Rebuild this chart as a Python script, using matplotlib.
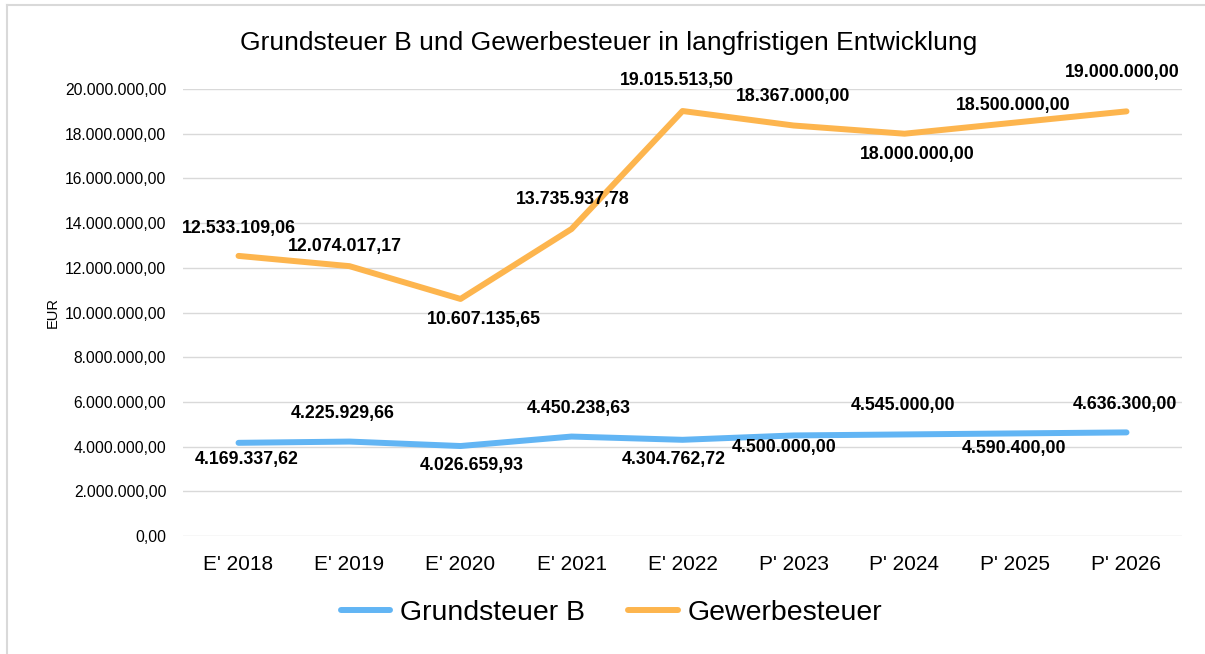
import matplotlib
matplotlib.use("Agg")
import matplotlib.pyplot as plt
from matplotlib.ticker import FuncFormatter, MultipleLocator
from matplotlib.lines import Line2D

plt.rcParams['font.family'] = ['Liberation Sans', 'DejaVu Sans']

# data
years = ["E' 2018", "E' 2019", "E' 2020", "E' 2021", "E' 2022",
         "P' 2023", "P' 2024", "P' 2025", "P' 2026"]
grundsteuer = [4169337.62, 4225929.66, 4026659.93, 4450238.63, 4304762.72,
               4500000.00, 4545000.00, 4590400.00, 4636300.00]
gewerbe = [12533109.06, 12074017.17, 10607135.65, 13735937.78, 19015513.50,
           18367000.00, 18000000.00, 18500000.00, 19000000.00]

# label offsets (points)
gr_off = [(6, -12), (-5, 20), (8, -14), (5, 20), (-6, -14), (-6.5, -9), (-1, 21), (-1, -11), (-1, 20)]
gw_off = [(0, 20), (-3, 14), (17, -15), (1, 21), (-4, 22), (0, 21), (9, -15), (-2, 12), (-3, 28)]

blue = '#62B5F4'
orange = '#FDB54E'


def de_fmt(v, pos=None):
    s = f"{v:,.2f}"
    return s.replace(",", "X").replace(".", ",").replace("X", ".")


fig = plt.figure(figsize=(12.05, 6.54), dpi=100)
ax = fig.add_axes([0.1519, 0.1804, 0.8290, 0.6835])

x = range(len(years))
ax.plot(x, grundsteuer, color=blue, lw=4.3, solid_capstyle='round', label='Grundsteuer B')
ax.plot(x, gewerbe, color=orange, lw=4.3, solid_capstyle='round', label='Gewerbesteuer')

for i, v in enumerate(grundsteuer):
    ax.annotate(de_fmt(v), (i, v), xytext=gr_off[i], textcoords='offset points',
                ha='center', va='center', fontsize=12.8, fontweight='bold')
for i, v in enumerate(gewerbe):
    ax.annotate(de_fmt(v), (i, v), xytext=gw_off[i], textcoords='offset points',
                ha='center', va='center', fontsize=12.8, fontweight='bold')

ax.set_xlim(-0.5, len(years) - 0.5)
ax.set_ylim(0, 20000000)
ax.yaxis.set_major_locator(MultipleLocator(2000000))
ax.yaxis.set_major_formatter(FuncFormatter(de_fmt))
ax.set_xticks(list(x))
ax.set_xticklabels(years, fontsize=15)
ax.tick_params(axis='y', labelsize=11.3, length=0, pad=12)
ax.tick_params(axis='x', length=0, pad=14)
ax.grid(axis='y', color='#D9D9D9', lw=1)
ax.set_axisbelow(True)
for s in ax.spines.values():
    s.set_visible(False)
ax.set_ylabel('EUR', fontsize=10.5, labelpad=4)

fig.text(0.505, 0.934, 'Grundsteuer B und Gewerbesteuer in langfristigen Entwicklung',
         ha='center', va='center', fontsize=19)

ax.legend(loc='center', bbox_to_anchor=(0.429, -0.172), ncol=2, frameon=False,
          fontsize=20.5, handlelength=1.75, handletextpad=0.35, columnspacing=1.5)

# chart frame (only left and top edges visible)
fig.add_artist(Line2D([0.0062, 0.0062], [0, 0.992], transform=fig.transFigure,
                      color='#D9D9D9', lw=1.5))
fig.add_artist(Line2D([0.0062, 1], [0.992, 0.992], transform=fig.transFigure,
                      color='#D9D9D9', lw=1.5))

fig.savefig('out.png', dpi=100)
